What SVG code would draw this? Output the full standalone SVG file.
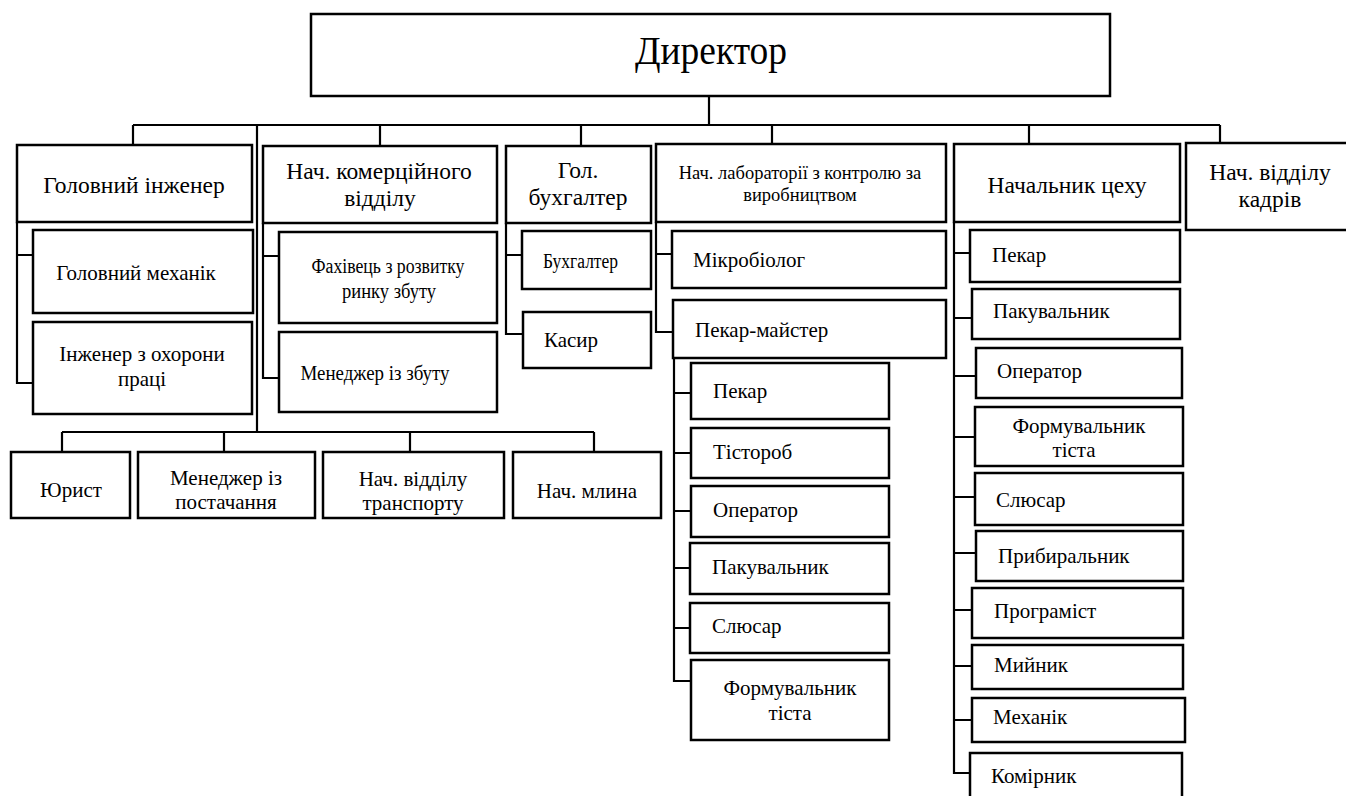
<svg xmlns="http://www.w3.org/2000/svg" width="1346" height="796" viewBox="0 0 1346 796">
<style>
.b{fill:#fff;stroke:#000;stroke-width:2.5}
.l{fill:none;stroke:#000;stroke-width:2.2}
text{font-family:"Liberation Serif","DejaVu Serif",serif;fill:#000}
.h{font-size:23.5px;text-anchor:middle}
.m{font-size:21px;text-anchor:middle}
.s{font-size:21px}
</style>
<rect width="1346" height="796" fill="#fff"/>
<g id="connectors">
<path class="l" d="M709,96V125M133,125H1220M133,125V145M380,125V146M581,125V146M772,125V144M1029,125V144M1220,125V143"/>
<path class="l" d="M257,125V432M62,432H594M62,432V452M224,432V452M410,432V452M594,432V452"/>
<path class="l" d="M17,222V383H33M17,255H33"/>
<path class="l" d="M263,223V378H279M263,256H279"/>
<path class="l" d="M506,223V334H523M506,255H522"/>
<path class="l" d="M656,222V332H673M656,254H672"/>
<path class="l" d="M674,358V681H691M674,393H691M674,453H691M674,511H691M674,568H690M674,628H690"/>
<path class="l" d="M954,222V773H970M954,253H970M954,318H972M954,376H976M954,437H975M954,497H975M954,553H976M954,610H972M954,666H972M954,720H972"/>
</g>
<g id="director"><rect class="b" x="311" y="14" width="799" height="82"/><text x="711" y="64" font-size="41" text-anchor="middle" textLength="152" lengthAdjust="spacingAndGlyphs">Директор</text></g>
<g id="chief-engineer"><rect class="b" x="17" y="145" width="235" height="77"/><text class="h" x="134" y="193">Головний інженер</text></g>
<g id="commercial"><rect class="b" x="263" y="146" width="234" height="77"/><text class="h" x="379" y="179">Нач. комерційного</text><text class="h" x="380" y="206">відділу</text></g>
<g id="chief-accountant"><rect class="b" x="506" y="146" width="145" height="77"/><text class="h" x="578" y="178">Гол.</text><text class="h" x="578" y="205">бухгалтер</text></g>
<g id="lab"><rect class="b" x="656" y="144" width="290" height="78"/><text x="800" y="179" font-size="18.5" text-anchor="middle">Нач. лабораторії з контролю за</text><text x="800" y="201" font-size="18.5" text-anchor="middle">виробництвом</text></g>
<g id="shop-head"><rect class="b" x="954" y="144" width="226" height="78"/><text class="h" x="1067" y="193">Начальник цеху</text></g>
<g id="hr"><rect class="b" x="1186" y="143" width="164" height="87"/><text class="h" x="1270" y="180">Нач. відділу</text><text class="h" x="1270" y="207">кадрів</text></g>
<g id="chief-mechanic"><rect class="b" x="33" y="230" width="220" height="83"/><text class="m" x="136" y="280">Головний механік</text></g>
<g id="safety-engineer"><rect class="b" x="33" y="322" width="219" height="92"/><text class="m" x="142" y="361">Інженер з охорони</text><text class="m" x="142" y="386">праці</text></g>
<g id="market-specialist"><rect class="b" x="279" y="232" width="218" height="91"/><text x="388" y="273" font-size="20" text-anchor="middle" textLength="153" lengthAdjust="spacingAndGlyphs">Фахівець з розвитку</text><text x="389" y="298" font-size="20" text-anchor="middle" textLength="94" lengthAdjust="spacingAndGlyphs">ринку збуту</text></g>
<g id="sales-manager"><rect class="b" x="279" y="332" width="218" height="80"/><text x="375" y="380" font-size="20" text-anchor="middle" textLength="149" lengthAdjust="spacingAndGlyphs">Менеджер із збуту</text></g>
<g id="accountant"><rect class="b" x="522" y="231" width="129" height="58"/><text x="543" y="268" font-size="20" textLength="75" lengthAdjust="spacingAndGlyphs">Бухгалтер</text></g>
<g id="cashier"><rect class="b" x="523" y="312" width="128" height="56"/><text class="s" x="544" y="347">Касир</text></g>
<g id="microbiologist"><rect class="b" x="672" y="231" width="274" height="57"/><text class="s" x="693" y="267">Мікробіолог</text></g>
<g id="master-baker"><rect class="b" x="673" y="300" width="273" height="58"/><text class="s" x="695" y="337">Пекар-майстер</text></g>
<g id="l-baker"><rect class="b" x="691" y="363" width="198" height="56"/><text class="s" x="713" y="398">Пекар</text></g>
<g id="l-dough"><rect class="b" x="691" y="428" width="198" height="50"/><text class="s" x="713" y="459">Тістороб</text></g>
<g id="l-operator"><rect class="b" x="691" y="486" width="198" height="51"/><text class="s" x="713" y="517">Оператор</text></g>
<g id="l-packer"><rect class="b" x="690" y="543" width="199" height="51"/><text class="s" x="712" y="574">Пакувальник</text></g>
<g id="l-locksmith"><rect class="b" x="690" y="603" width="199" height="50"/><text class="s" x="712" y="633">Слюсар</text></g>
<g id="l-former"><rect class="b" x="691" y="660" width="198" height="80"/><text class="m" x="790" y="695">Формувальник</text><text class="m" x="790" y="720">тіста</text></g>
<g id="s-baker"><rect class="b" x="970" y="230" width="210" height="52"/><text class="s" x="992" y="262">Пекар</text></g>
<g id="s-packer"><rect class="b" x="972" y="289" width="208" height="50"/><text class="s" x="993" y="318">Пакувальник</text></g>
<g id="s-operator"><rect class="b" x="976" y="348" width="206" height="50"/><text class="s" x="997" y="378">Оператор</text></g>
<g id="s-former"><rect class="b" x="975" y="407" width="208" height="59"/><text class="m" x="1079" y="433">Формувальник</text><text class="m" x="1074" y="457">тіста</text></g>
<g id="s-locksmith"><rect class="b" x="975" y="473" width="208" height="52"/><text class="s" x="996" y="507">Слюсар</text></g>
<g id="s-cleaner"><rect class="b" x="976" y="531" width="207" height="50"/><text class="s" x="998" y="563">Прибиральник</text></g>
<g id="s-programmer"><rect class="b" x="972" y="588" width="211" height="50"/><text class="s" x="994" y="618">Програміст</text></g>
<g id="s-washer"><rect class="b" x="972" y="645" width="211" height="44"/><text class="s" x="994" y="672">Мийник</text></g>
<g id="s-mechanic"><rect class="b" x="972" y="698" width="213" height="44"/><text class="s" x="993" y="724">Механік</text></g>
<g id="s-storekeeper"><rect class="b" x="970" y="753" width="212" height="47"/><text class="s" x="991" y="783">Комірник</text></g>
<g id="lawyer"><rect class="b" x="11" y="452" width="119" height="66"/><text class="m" x="71" y="497">Юрист</text></g>
<g id="supply-manager"><rect class="b" x="138" y="452" width="177" height="66"/><text class="m" x="226" y="485">Менеджер із</text><text class="m" x="226" y="509">постачання</text></g>
<g id="transport"><rect class="b" x="323" y="452" width="181" height="66"/><text class="m" x="413" y="486">Нач. відділу</text><text class="m" x="413" y="510">транспорту</text></g>
<g id="mill"><rect class="b" x="513" y="452" width="148" height="66"/><text class="m" x="587" y="498">Нач. млина</text></g>
</svg>
